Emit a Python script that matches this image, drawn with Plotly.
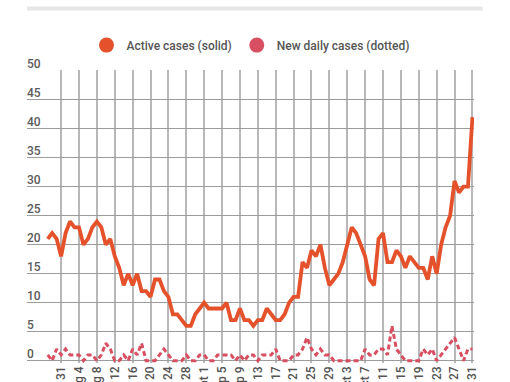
import pandas as pd
import plotly.graph_objects as go

# ---- data ----
dates = pd.date_range("2020-07-28", periods=96, freq="D")

active_cases = [21, 22, 21, 18, 22, 24, 23, 23, 20, 21,
                23, 24, 23, 20, 21, 18, 16, 13, 15, 13,
                15, 12, 12, 11, 14, 14, 12, 11, 8, 8,
                7, 6, 6, 8, 9, 10, 9, 9, 9, 9,
                10, 7, 7, 9, 7, 7, 6, 7, 7, 9,
                8, 7, 7, 8, 10, 11, 11, 17, 16, 19,
                18, 20, 16, 13, 14, 15, 17, 20, 23, 22,
                20, 18, 14, 13, 21, 22, 17, 17, 19, 18,
                16, 18, 17, 16, 16, 14, 18, 15, 20, 23,
                25, 31, 29, 30, 30, 42]

new_daily_cases = [1, 0, 2, 1, 2, 1, 1, 1, 0, 1,
                   1, 0, 1, 3, 2, 0, 0, 1, 0, 2,
                   1, 3, 0, 0, 0, 1, 2, 1, 0, 0,
                   0, 1, 0, 0, 1, 1, 0, 0, 1, 1,
                   1, 1, 0, 1, 0, 1, 1, 0, 1, 1,
                   1, 2, 0, 0, 0, 1, 1, 2, 4, 2,
                   1, 2, 1, 1, 0, 0, 0, 0, 0, 0,
                   0, 2, 1, 1, 2, 2, 1, 6, 2, 1,
                   0, 0, 0, 0, 2, 1, 2, 0, 1, 2,
                   3, 4, 2, 0, 2, 2]

tick_dates = pd.date_range("2020-07-31", "2020-10-31", freq="4D")
tick_labels = ["31", "Aug 4", "Aug 8", "12", "16", "20", "24", "28",
               "Sept 1", "Sep 5", "Sep 9", "13", "17", "21", "25", "29",
               "Oct 3", "Oct 7", "11", "15", "19", "23", "27", "31"]

y_ticks = [0, 5, 10, 15, 20, 25, 30, 35, 40, 45, 50]

series_names = ["Active cases (solid)", "New daily cases (dotted)"]
active_color = "#e4512a"
daily_color = "#d84f62"

# ---- figure ----
fig = go.Figure()

fig.add_trace(go.Scatter(
    x=dates, y=new_daily_cases, mode="lines", showlegend=False,
    line=dict(color=daily_color, width=3, dash="5px,3px"),
    hoverinfo="skip"))
fig.add_trace(go.Scatter(
    x=dates, y=active_cases, mode="lines", showlegend=False,
    line=dict(color=active_color, width=3.8),
    hoverinfo="skip"))

# legend entries drawn as circles
fig.add_trace(go.Scatter(x=[None], y=[None], mode="markers", name=series_names[0],
                         marker=dict(color=active_color, size=15)))
fig.add_trace(go.Scatter(x=[None], y=[None], mode="markers", name=series_names[1],
                         marker=dict(color=daily_color, size=15)))

# plot area: x 27..474 px, y 70..363 px ; value 0 at 360.7 px, 50 at 70.7 px
fig.update_layout(
    width=510, height=382,
    margin=dict(l=27, r=36, t=70, b=19),
    paper_bgcolor="white", plot_bgcolor="white",
    font=dict(family="Roboto, Arial, sans-serif", color="#555555", size=12),
    showlegend=True,
    legend=dict(orientation="h", x=0.5, xanchor="center", y=1.085, yanchor="middle",
                font=dict(size=12, color="#555555", weight=500),
                bgcolor="rgba(0,0,0,0)", itemclick=False, itemdoubleclick=False),
    shapes=[dict(type="rect", xref="paper", yref="paper",
                 x0=0, x1=1.0197, y0=1.2031, y1=1.2167,
                 fillcolor="#e6e6e6", line=dict(width=0), layer="below")],
)

fig.update_xaxes(
    type="date", automargin=False,
    range=["2020-07-23 08:53", "2020-10-31 08:24"],
    tickmode="array", tickvals=tick_dates, ticktext=tick_labels,
    tickangle=-90, showgrid=True, gridcolor="#b8b8b8", gridwidth=1.5,
    showline=False, zeroline=False, ticks="",
    tickfont=dict(size=12, color="#555555", weight=500),
)

fig.update_yaxes(
    automargin=False,
    range=[-0.4, 50.12],
    tickmode="array", tickvals=y_ticks,
    showgrid=True, gridcolor="#9c9c9c", gridwidth=1,
    zeroline=False, showline=False, ticks="",
    ticklabelposition="inside", ticklabelshift=-7, ticklabelstandoff=-3,
    ticklabeloverflow="allow",
    tickfont=dict(size=12, color="#5a5a5a", weight=500),
)

fig.write_html("out.html", config={"displayModeBar": False},
               post_script="document.body.style.margin='0';")
